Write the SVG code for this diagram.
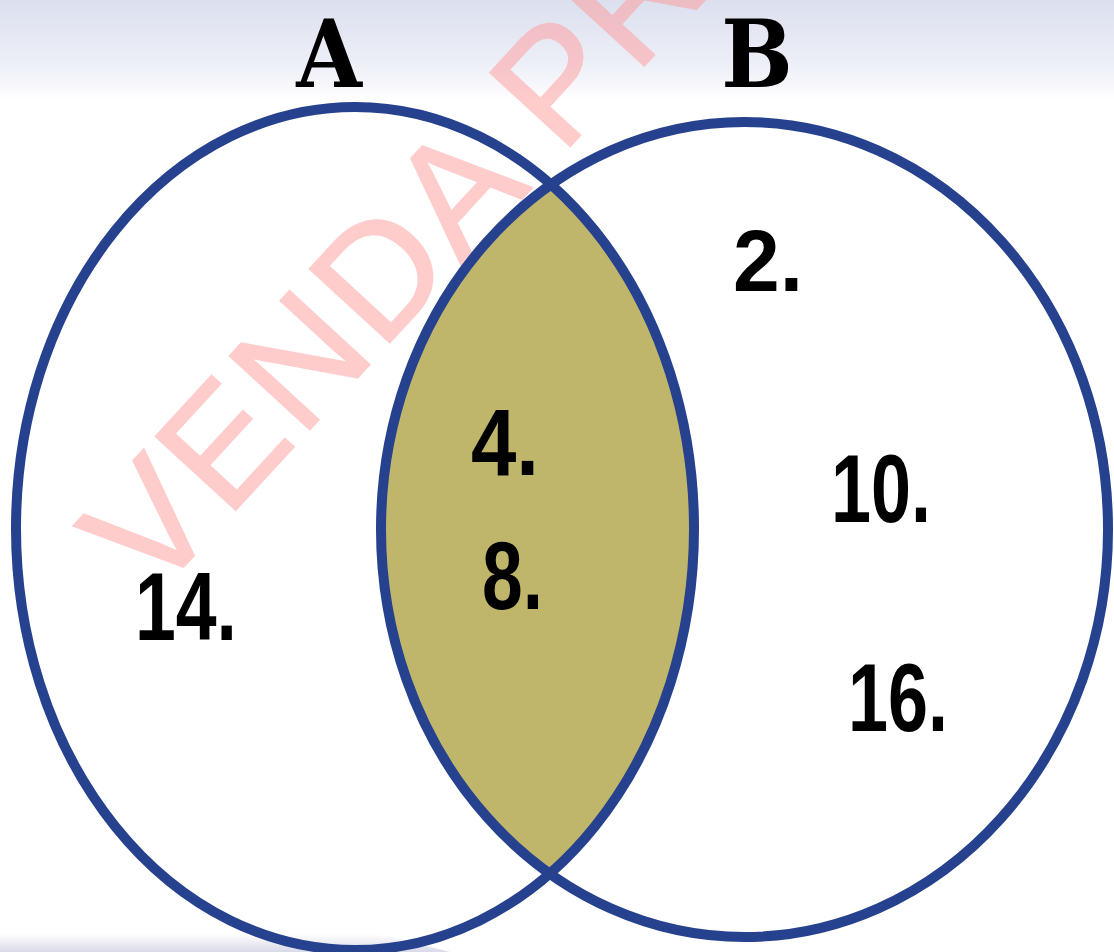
<svg xmlns="http://www.w3.org/2000/svg" width="1114" height="952" viewBox="0 0 1114 952">
  <defs>
    <linearGradient id="topBand" x1="0" y1="0" x2="0" y2="1">
      <stop offset="0" stop-color="#dcdfee"/>
      <stop offset="0.6" stop-color="#eceef7"/>
      <stop offset="0.85" stop-color="#f7f7fc"/>
      <stop offset="1" stop-color="#ffffff"/>
    </linearGradient>
    <linearGradient id="bottomBand" x1="0" y1="0" x2="0" y2="1">
      <stop offset="0" stop-color="#ffffff"/>
      <stop offset="1" stop-color="#d9dae8"/>
    </linearGradient>
    <clipPath id="clipA">
      <ellipse cx="355" cy="528.5" rx="339" ry="421.5"/>
    </clipPath>
    <style>
      .ring { fill: none; stroke: #26418e; stroke-width: 10; }
      .set-label { font-family: "DejaVu Serif Condensed", "DejaVu Serif", serif; font-weight: bold; font-size: 94px; fill: #000; text-anchor: middle; }
      .num { font-family: "Liberation Sans", Arial, sans-serif; font-weight: bold; fill: #000; }
      .wm { font-family: "Liberation Sans", Arial, sans-serif; font-size: 158px; fill: #ff9a9a; stroke: #ff9a9a; stroke-width: 2; letter-spacing: 4px; }
    </style>
  </defs>

  <g id="background">
    <rect x="0" y="0" width="1114" height="952" fill="#ffffff"/>
    <rect x="0" y="0" width="1114" height="100" fill="url(#topBand)"/>
    <path d="M0 934 L380 934 L450 952 L0 952 Z" fill="url(#bottomBand)"/>
  </g>

  <g id="watermark" opacity="0.5">
    <text class="wm" x="153" y="600" transform="rotate(-47.4 153 600)">VENDA PR</text>
  </g>

  <g id="intersection">
    <ellipse cx="744.5" cy="529.5" rx="363.5" ry="407.5" fill="#c0b66b" clip-path="url(#clipA)"/>
    <text class="num" x="471" y="475" font-size="95" textLength="68" lengthAdjust="spacingAndGlyphs">4.</text>
    <text class="num" x="482" y="609" font-size="97" textLength="61" lengthAdjust="spacingAndGlyphs">8.</text>
  </g>

  <g id="node-A">
    <ellipse class="ring" cx="355" cy="528.5" rx="339" ry="421.5"/>
    <text class="set-label" x="329" y="87">A</text>
    <text class="num" x="135" y="640" font-size="96" textLength="102" lengthAdjust="spacingAndGlyphs">14.</text>
  </g>

  <g id="node-B">
    <ellipse class="ring" cx="744.5" cy="529.5" rx="363.5" ry="407.5"/>
    <text class="set-label" x="757" y="87">B</text>
    <text class="num" x="733" y="291" font-size="88" textLength="70" lengthAdjust="spacingAndGlyphs">2.</text>
    <text class="num" x="831" y="522" font-size="96" textLength="100" lengthAdjust="spacingAndGlyphs">10.</text>
    <text class="num" x="848" y="731" font-size="97" textLength="100" lengthAdjust="spacingAndGlyphs">16.</text>
  </g>
</svg>
